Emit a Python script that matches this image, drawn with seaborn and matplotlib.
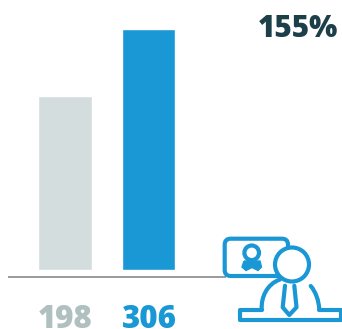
import matplotlib
matplotlib.use("Agg")
import matplotlib.pyplot as plt
from matplotlib.patches import FancyBboxPatch, Circle, PathPatch
from matplotlib.path import Path
import pandas as pd
import seaborn as sns

sns.set_theme(style="white")
plt.rcParams["font.family"] = ["Open Sans", "DejaVu Sans"]

categories = ["A", "B"]
labels = ["198", "306"]
bar_heights = [222, 306]
headline = "155%"
bar_colors = ["#d4dddd", "#1a97d5"]
label_colors = ["#b0bfbf", "#1a97d5"]
DARK = "#1c3f4a"
ICON = "#1a97d5"

W, H = 342, 329
fig = plt.figure(figsize=(W / 100, H / 100), dpi=100)
ax = fig.add_axes([0, 0, 1, 1])
df = pd.DataFrame({"cat": categories, "val": bar_heights})
sns.barplot(data=df, x="cat", y="val", hue="cat", palette=bar_colors, width=0.645,
            legend=False, ax=ax, saturation=1)
px_x = 83.6
px_y = 241 / 306
ax.set_xlim(-64.9 / px_x, (W - 64.9) / px_x)
ax.set_ylim(-(H - 270.4) / px_y, 270.4 / px_y)
ax.axis("off")

ov = fig.add_axes([0, 0, 1, 1], facecolor="none")
ov.set_xlim(0, W)
ov.set_ylim(H, 0)
ov.axis("off")

ov.plot([8.3, 226], [276.8, 276.8], color="#7a8080", lw=1.1, solid_capstyle="butt", zorder=1)
for xc, t, c in zip([65.3, 149], labels, label_colors):
    ov.text(xc, 328, t, ha="center", va="baseline", fontsize=22.5, fontweight=800, color=c)
ov.text(338.5, 37, headline, ha="right", va="baseline", fontsize=21.4, fontweight=800, color=DARK)

lw = 3.0
ov.add_patch(FancyBboxPatch((224.7, 238.7), 63.3, 37.3, boxstyle="round,pad=0,rounding_size=6",
                            fc="white", ec=ICON, lw=lw, zorder=2))
ov.add_patch(Circle((251.7, 252.8), 7.3, fc="white", ec=ICON, lw=lw, zorder=3))
rib = Path([(244, 261), (260, 261), (261.5, 267), (258, 270.5), (252, 267.5), (246, 270.5), (242, 267), (244, 261)])
ov.add_patch(PathPatch(rib, fc=ICON, ec=ICON, lw=1, zorder=3))
ov.add_patch(Circle((292, 264.5), 17, fc="white", ec=ICON, lw=lw, zorder=5))

# desk outline: full bottom edge, top edge broken where the body sits
desk = Path([(261.7, 309.5), (240, 309.5), (240, 320), (340.5, 320), (340.5, 309.5), (319.3, 309.5)])
ov.add_patch(PathPatch(desk, fc="none", ec=ICON, lw=lw, joinstyle="round", capstyle="round", zorder=4))
body_l = Path([(280, 279.5), (267, 284), (261, 297), (261.7, 309.5)],
              [Path.MOVETO, Path.CURVE4, Path.CURVE4, Path.CURVE4])
body_r = Path([(310.7, 286), (316, 292), (318.8, 301), (319.3, 309.5)],
              [Path.MOVETO, Path.CURVE4, Path.CURVE4, Path.CURVE4])
for p in (body_l, body_r):
    ov.add_patch(PathPatch(p, fc="none", ec=ICON, lw=lw, capstyle="round", zorder=4))
ov.plot([285, 282.7, 289.3, 296.5, 294.3], [285.7, 307.3, 315, 307.3, 285.7], color=ICON, lw=lw,
        solid_capstyle="round", solid_joinstyle="round", zorder=4)

fig.savefig("out.png", dpi=100)
